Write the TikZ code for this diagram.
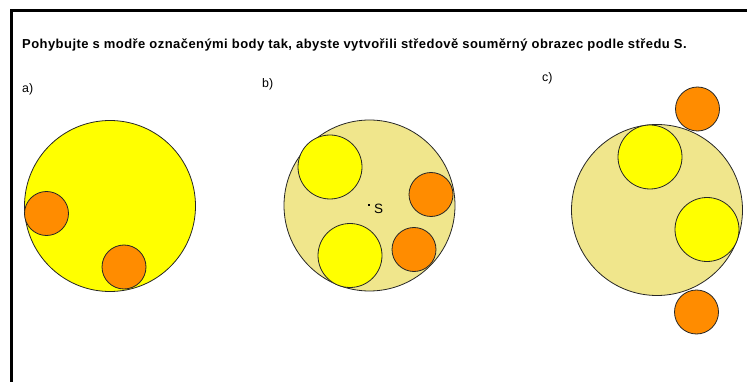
\documentclass[tikz,border=0pt]{standalone}
\usepackage{fontspec}
\setmainfont{Liberation Sans}
\usepackage{tikz}
\usetikzlibrary{shapes.geometric, positioning}
\definecolor{SMyellow}{RGB}{255,255,0}
\definecolor{SMkhaki}{RGB}{240,230,140}
\definecolor{SMorange}{RGB}{255,140,0}

\begin{document}
\begin{tikzpicture}[x=1pt, y=-1pt,
    disc/.style={circle, draw=black!85, line width=0.8pt, inner sep=0pt},
    bigdisc/.style={disc, minimum size=171pt},
    yellowdot/.style={disc, fill=SMyellow, minimum size=64pt},
    orangedot/.style={disc, fill=SMorange, minimum size=44pt},
    lbl/.style={anchor=base west, inner sep=0pt, font=\fontsize{12.4}{14}\selectfont}]
  \useasboundingbox (0,0) rectangle (747,382);
  % frame
  \draw[line width=3pt] (11,383) -- (11,10.5) -- (748,10.5);
  \node[lbl, font=\fontsize{13}{15}\selectfont\bfseries\addfontfeature{LetterSpace=3.4}] (title) at (22,49)
    {Pohybujte s modře označenými body tak, abyste vytvořili středově souměrný obrazec podle středu S.};
  \node[lbl] (la) at (22,92.6) {a)};
  \node[lbl] (lb) at (262,87.6) {b)};
  \node[lbl] (lc) at (542,81.9) {c)};
  % a)
  \node[bigdisc, fill=SMyellow] (a) at (110,206) {};
  \foreach \x/\y [count=\k] in {46.5/213.5, 124/267}
    \node[orangedot] (a\k) at (\x,\y) {};
  % b)
  \node[bigdisc, fill=SMkhaki] (b) at (369.5,205.5) {};
  \node[yellowdot] (b1) at (330,167) {};
  \node[yellowdot] (b2) at (350,255.5) {};
  \node[orangedot] (b3) at (431,194.5) {};
  \node[orangedot] (b4) at (414,249.5) {};
  \coordinate (S) at (369,205);
  \fill (S) +(-1,-1) rectangle +(1,1);
  \node[anchor=base west, inner sep=0pt, font=\fontsize{13.5}{15}\selectfont] (lS) at (374,214) {S};
  % c)
  \node[orangedot] (c3) at (697.5,109) {};
  \node[orangedot] (c4) at (696.5,312) {};
  \node[bigdisc, fill=SMkhaki] (c) at (657,210) {};
  \node[yellowdot] (c1) at (650,157) {};
  \node[yellowdot] (c2) at (707,229.5) {};
\end{tikzpicture}
\end{document}
